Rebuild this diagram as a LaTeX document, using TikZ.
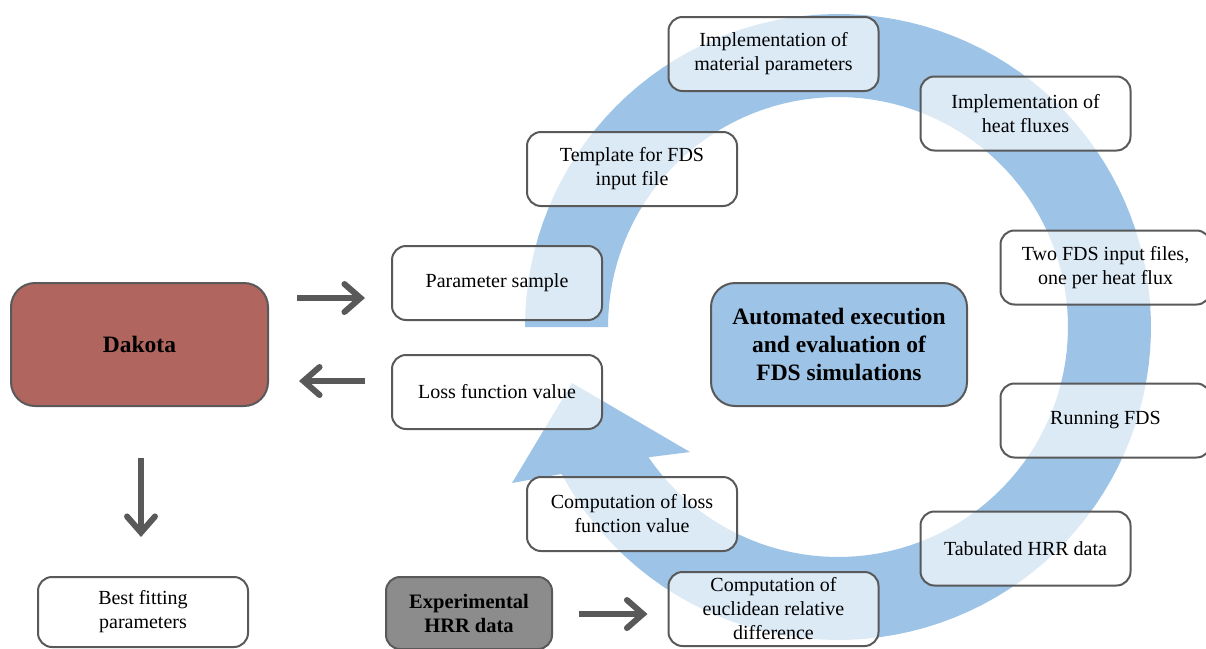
\documentclass[tikz,border=0pt]{standalone}
\usepackage{fontspec}
\setmainfont{Liberation Serif}
\usetikzlibrary{arrows.meta}

\definecolor{ringblue}{HTML}{9DC3E6}
\definecolor{boxline}{HTML}{595959}
\definecolor{dakotared}{HTML}{B0655E}
\definecolor{expgray}{HTML}{8C8C8C}

\begin{document}
\begin{tikzpicture}[x=1pt,y=-1pt,
  stepbox/.style={draw=boxline,line width=2pt,rounded corners=14pt,fill=white,fill opacity=0.65,text opacity=1,
    minimum width=210pt,minimum height=74pt,inner sep=2pt,align=center,font=\fontsize{20}{24}\selectfont},
  bigbox/.style={draw=boxline,line width=2pt,rounded corners=24pt,minimum width=256pt,minimum height=123pt,
    inner sep=2pt,align=center,font=\fontsize{23.5}{28}\selectfont\bfseries},
  bigarrow/.style={draw=boxline,line width=6pt,-{Straight Barb[length=16pt,width=28pt,line cap=round]}}]
\useasboundingbox (0,0) rectangle (1206,648);

% the loop, drawn as one wide arrow
\fill[ringblue] plot[domain=180:-152,samples=120] ({838+313*cos(\x)},{327-313*sin(\x)})
  -- (512,483) -- (572,383) -- (690,452)
  -- plot[domain=-145.5:180,samples=120] ({838+230*cos(\x)},{327-230*sin(\x)}) -- cycle;

\foreach \x/\y/\name/\txt in {
  497/283/param/{Parameter sample},
  497/392/loss/{Loss function value},
  632/169/template/{Template for FDS\\input file},
  773.5/54/matpar/{Implementation of\\material parameters},
  1025.5/113.5/heatflux/{Implementation of\\heat fluxes},
  1105.5/267.5/twofds/{Two FDS input files,\\one per heat flux},
  1105.5/420.5/running/{Running FDS},
  1025.5/548.5/tabhrr/{Tabulated HRR data},
  773.5/609/euclid/{Computation of\\euclidean relative\\difference},
  632/514/losscomp/{Computation of loss\\function value}}{
  \node[stepbox] (\name) at (\x,\y) {\txt};
}
\node[stepbox,minimum height=70pt] (best) at (143,612) {Best fitting\\parameters};

\node[bigbox,fill=dakotared,minimum width=257pt] (dakota) at (139.5,344.5) {Dakota};
\node[bigbox,fill=ringblue] (auto) at (839,344.5) {Automated execution\\and evaluation of\\FDS simulations};
\node[stepbox,fill=expgray,fill opacity=1,minimum width=166pt,minimum height=72pt,
  font=\fontsize{20.5}{24}\selectfont\bfseries] (exper) at (469,613) {Experimental\\HRR data};

\draw[bigarrow] ([xshift=28pt,yshift=46.5pt]dakota.east) -- ([xshift=-26pt,yshift=-15pt]param.west);
\draw[bigarrow] ([xshift=-26pt,yshift=11pt]loss.west) -- ([xshift=30pt,yshift=-36.5pt]dakota.east);
\draw[bigarrow] ([xshift=1.5pt,yshift=-51pt]dakota.south) -- ([xshift=-2pt,yshift=39pt]best.north);
\draw[bigarrow] ([xshift=26pt,yshift=-1pt]exper.east) -- ([xshift=-20pt,yshift=-5pt]euclid.west);
\end{tikzpicture}
\end{document}
